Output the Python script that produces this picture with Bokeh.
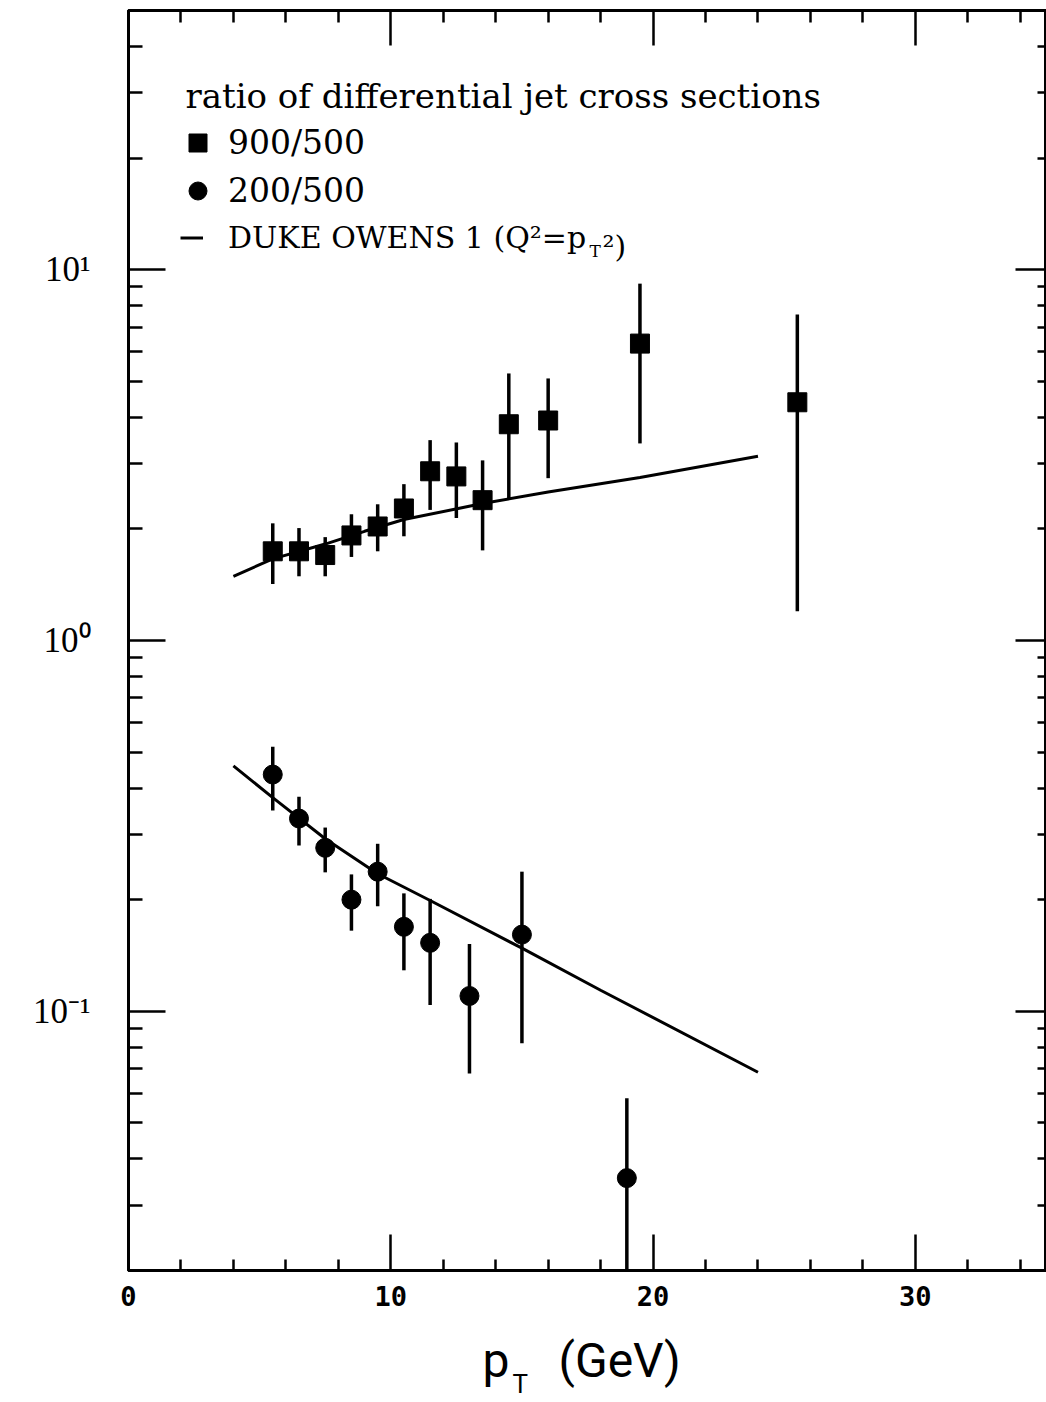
from bokeh.plotting import figure
from bokeh.layouts import column
from bokeh.models import Range1d, FixedTicker, LogAxis, LinearAxis, Label, Legend, LegendItem
from bokeh.embed import file_html
from bokeh.resources import INLINE

# ---------------- data ----------------
# ratio 900/500 (squares)
sq_x = [5.5, 6.5, 7.5, 8.5, 9.5, 10.5, 11.5, 12.5, 13.5, 14.5, 16, 19.5, 25.5]
sq_y = [1.74, 1.74, 1.70, 1.92, 2.03, 2.27, 2.86, 2.77, 2.39, 3.83, 3.92, 6.32, 4.39]
sq_hi = [2.07, 2.01, 1.90, 2.19, 2.33, 2.64, 3.47, 3.42, 3.06, 5.25, 5.09, 9.17, 7.57]
sq_lo = [1.42, 1.49, 1.49, 1.68, 1.74, 1.91, 2.25, 2.14, 1.75, 2.42, 2.74, 3.40, 1.20]

# ratio 200/500 (circles)
ci_x = [5.5, 6.5, 7.5, 8.5, 9.5, 10.5, 11.5, 13, 15, 19]
ci_y = [0.435, 0.331, 0.276, 0.200, 0.238, 0.169, 0.153, 0.110, 0.161, 0.0355]
ci_hi = [0.517, 0.379, 0.313, 0.234, 0.283, 0.208, 0.201, 0.152, 0.238, 0.0583]
ci_lo = [0.348, 0.280, 0.237, 0.165, 0.192, 0.129, 0.104, 0.068, 0.082, 0.015]

# Duke-Owens 1 predictions
do900_x = [4, 5.5, 7.5, 9, 10.5, 13.5, 16, 19.5, 24]
do900_y = [1.49, 1.66, 1.82, 1.97, 2.12, 2.34, 2.515, 2.75, 3.14]
do200_x = [4, 5.5, 7.5, 9.5, 11.5, 15, 18, 24]
do200_y = [0.459, 0.377, 0.292, 0.235, 0.199, 0.148, 0.114, 0.0685]

# ticks
x_major = [0, 10, 20, 30]
x_minor = [v for v in range(2, 35, 2) if v % 10 != 0]
y_major = [0.1, 1, 10]
y_major_labels = ["10\u207b\u00b9", "10\u2070", "10\u00b9"]
y_minor = [m * d for d in (0.01, 0.1, 1, 10) for m in range(2, 10) if 0.02 <= m * d <= 50]

title_text = "ratio of differential jet cross sections"
lab_900 = "900/500"
lab_200 = "200/500"
lab_do = "DUKE OWENS 1 (Q\u00b2=p"
lab_do_sub = "T"
lab_do_end = "\u00b2)"
xtitle_main = "p"
xtitle_sub = "T"
xtitle_unit = "(GeV)"

# ---------------- main figure ----------------
p = figure(width=1046, height=1330, y_axis_type="log",
           x_range=Range1d(0, 35), y_range=Range1d(0.02, 50),
           output_backend="svg", toolbar_location=None,
           min_border_left=128, min_border_right=0, min_border_top=10,
           min_border_bottom=60)
p.xgrid.visible = False
p.ygrid.visible = False
p.outline_line_color = "black"
p.outline_line_width = 3
p.background_fill_color = "white"
p.border_fill_color = "white"

xt = FixedTicker(ticks=x_major, minor_ticks=x_minor)
yt = FixedTicker(ticks=y_major, minor_ticks=y_minor)

def style(ax, major_len=35, minor_len=12):
    ax.axis_line_color = "black"
    ax.axis_line_width = 3
    ax.major_tick_line_color = "black"
    ax.major_tick_line_width = 2.5
    ax.minor_tick_line_color = "black"
    ax.minor_tick_line_width = 2.5
    ax.major_tick_in = major_len
    ax.major_tick_out = 0
    ax.minor_tick_in = minor_len
    ax.minor_tick_out = 0

xb = p.xaxis[0]
xb.ticker = xt
style(xb, 36, 11)
xb.major_label_text_font = "DejaVu Sans Mono"
xb.major_label_text_font_style = "bold"
xb.major_label_text_font_size = "27px"
xb.major_label_text_color = "black"
xb.major_label_standoff = 15

yl = p.yaxis[0]
yl.ticker = yt
style(yl, 37, 14)
yl.major_label_overrides = dict(zip(y_major, y_major_labels))
yl.major_label_text_font = "Liberation Serif"
yl.major_label_text_font_size = "35px"
yl.major_label_text_color = "black"
yl.major_label_standoff = 38

xtop = LinearAxis(ticker=xt, major_label_overrides={v: "" for v in x_major},
                  major_label_standoff=0)
style(xtop, 35, 12)
p.add_layout(xtop, "above")

yr = LogAxis(ticker=yt, major_label_overrides={v: "" for v in y_major},
             major_label_standoff=0)
style(yr, 31, 9)
p.add_layout(yr, "right")

# ---------------- data marks ----------------
p.segment(x0=sq_x, y0=sq_lo, x1=sq_x, y1=sq_hi, line_color="black", line_width=3.5)
p.segment(x0=ci_x, y0=ci_lo, x1=ci_x, y1=ci_hi, line_color="black", line_width=3.5)
r_do = p.line(do900_x, do900_y, line_color="black", line_width=3)
p.line(do200_x, do200_y, line_color="black", line_width=3)
r_sq = p.scatter(sq_x, sq_y, marker="square", size=19, color="black")
r_ci = p.scatter(ci_x, ci_y, marker="circle", size=19, color="black")

# ---------------- legend ----------------
serif = "DejaVu Serif"
legA = Legend(items=[LegendItem(label=lab_900, renderers=[r_sq]),
                     LegendItem(label=lab_200, renderers=[r_ci])],
              location=(47, 1057), glyph_width=45, glyph_height=45, spacing=3,
              padding=0, margin=0, label_standoff=8,
              label_text_font=serif, label_text_font_size="33px",
              label_text_color="black",
              border_line_alpha=0, background_fill_alpha=0)
p.add_layout(legA)
legB = Legend(items=[LegendItem(label=lab_do, renderers=[r_do])],
              location=(52, 1010), glyph_width=23, glyph_height=45, spacing=0,
              padding=0, margin=0, label_standoff=25,
              label_text_font=serif, label_text_font_size="30px",
              label_text_color="black",
              border_line_alpha=0, background_fill_alpha=0)
p.add_layout(legB)

p.add_layout(Label(x=57, y=1175, x_units="screen", y_units="screen", text=title_text,
                   text_font=serif, text_font_size="34px", text_baseline="alphabetic",
                   text_color="black"))
p.add_layout(Label(x=461, y=1020, x_units="screen", y_units="screen", text=lab_do_sub,
                   text_font=serif, text_font_size="17px", text_baseline="alphabetic",
                   text_color="black"))
p.add_layout(Label(x=474, y=1024, x_units="screen", y_units="screen", text=lab_do_end,
                   text_font=serif, text_font_size="30px", text_baseline="alphabetic",
                   text_color="black"))

# ---------------- x-axis title strip: p_T (GeV) ----------------
p2 = figure(width=1046, height=70, x_range=Range1d(0, 1), y_range=Range1d(0, 1),
            output_backend="svg", toolbar_location=None,
            min_border_left=128, min_border_right=0, min_border_top=0,
            min_border_bottom=0,
            x_axis_location=None, y_axis_location=None)
p2.grid.visible = False
p2.outline_line_color = None
p2.background_fill_color = "white"
p2.border_fill_color = "white"

tfont = "Roboto"
p2.add_layout(Label(x=354, y=40, x_units="screen", y_units="screen", text=xtitle_main,
                    text_font=tfont, text_font_size="48px", text_baseline="alphabetic",
                    text_color="black"))
p2.add_layout(Label(x=384, y=17, x_units="screen", y_units="screen", text=xtitle_sub,
                    text_font=tfont, text_font_size="26px", text_baseline="alphabetic",
                    text_color="black"))
p2.add_layout(Label(x=430, y=40, x_units="screen", y_units="screen", text=xtitle_unit,
                    text_font=tfont, text_font_size="48px", text_baseline="alphabetic",
                    text_color="black"))

layout = column(p, p2, spacing=0)
open("out.html", "w").write(file_html(layout, INLINE))
